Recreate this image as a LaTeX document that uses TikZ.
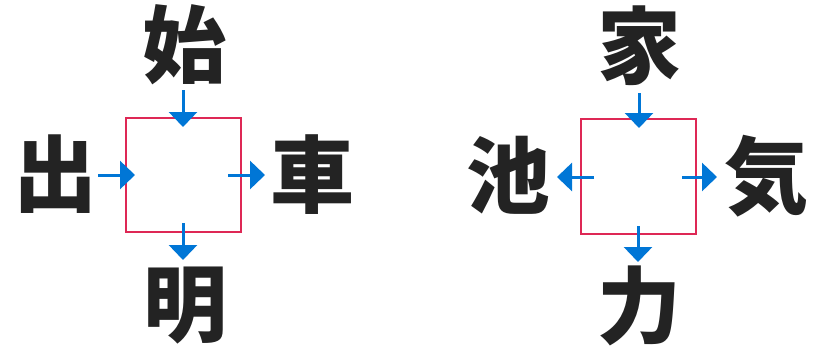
\documentclass[tikz,border=0pt]{standalone}
\usepackage{fontspec}
\newfontfamily\cjk{Noto Sans CJK JP}
\usetikzlibrary{arrows.meta}
\definecolor{boxred}{RGB}{222,40,85}
\definecolor{arrblue}{RGB}{0,118,214}
\definecolor{ink}{RGB}{35,35,35}
\tikzset{
  kanji/.style={inner sep=0pt, text=ink, font=\cjk\bfseries\fontsize{84}{84}\selectfont},
  sq/.style={draw=boxred, line width=2.8pt},
  arr/.style={draw=arrblue, line width=3pt, -{Triangle[width=28pt,length=15pt]}}
}
\begin{document}
\begin{tikzpicture}[x=1pt,y=-1pt]
\useasboundingbox (0,0) rectangle (818,348);
% left puzzle
\draw[sq] (126,118) rectangle (241,232);
\node[kanji] (a1) at (184,45) {始};
\node[kanji] (a2) at (55,174) {出};
\node[kanji] (a3) at (312,175) {車};
\node[kanji] (a4) at (185,306) {明};
\coordinate (t1) at (183,90);  \coordinate (h1) at (183,127);
\coordinate (t2) at (98,175);  \coordinate (h2) at (135,175);
\coordinate (t3) at (228,175); \coordinate (h3) at (265,175);
\coordinate (t4) at (183,223); \coordinate (h4) at (183,260);
\draw[arr] (t1) -- (h1);
\draw[arr] (t2) -- (h2);
\draw[arr] (t3) -- (h3);
\draw[arr] (t4) -- (h4);
% right puzzle
\draw[sq] (581,119) rectangle (696,234);
\node[kanji] (b1) at (639,46) {家};
\node[kanji] (b2) at (508,175) {池};
\node[kanji] (b3) at (766,176) {気};
\node[kanji] (b4) at (639,306) {力};
\coordinate (u1) at (639,93);  \coordinate (g1) at (639,128);
\coordinate (u2) at (594,177); \coordinate (g2) at (557,177);
\coordinate (u3) at (682,177); \coordinate (g3) at (717,177);
\coordinate (u4) at (638,226); \coordinate (g4) at (638,262);
\draw[arr] (u1) -- (g1);
\draw[arr] (u2) -- (g2);
\draw[arr] (u3) -- (g3);
\draw[arr] (u4) -- (g4);
\end{tikzpicture}
\end{document}
